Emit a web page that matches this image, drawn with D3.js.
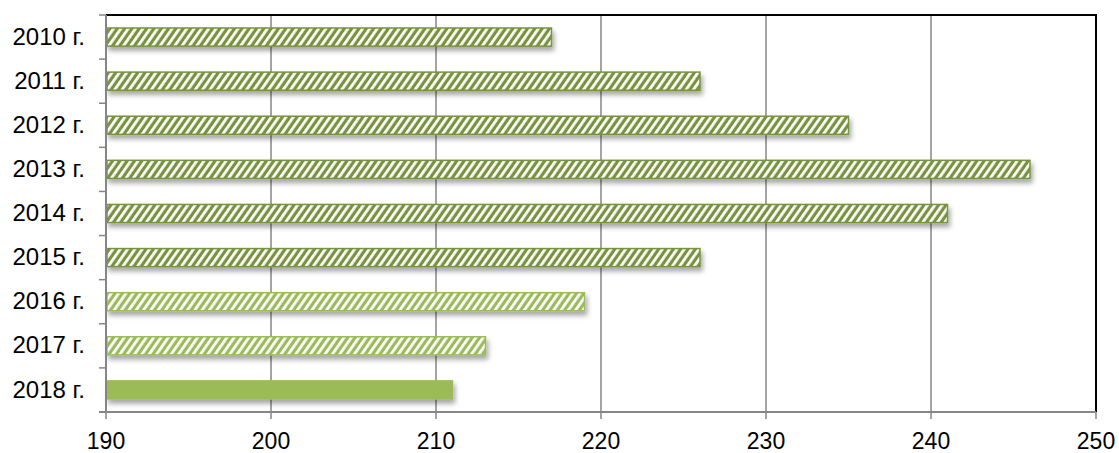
<!DOCTYPE html>
<html><head><meta charset="utf-8">
<script src="https://cdn.jsdelivr.net/npm/d3@7"></script>
<style>body{margin:0;background:#fff}svg{display:block}text{font-family:"Liberation Sans",Arial,sans-serif}</style>
</head><body><svg id="c" width="1119" height="453"></svg>
<script>
const categories = ["2010 г.","2011 г.","2012 г.","2013 г.","2014 г.","2015 г.","2016 г.","2017 г.","2018 г."];
const values = [217,226,235,246,241,226,219,213,211];
const styles = ["dark","dark","dark","dark","dark","dark","light","light","solid"];
const xTicks = [190,200,210,220,230,240,250];

const svg = d3.select("#c");
const m = {l:106, r:1096, t:15, b:412};
const x = d3.scaleLinear().domain([190,250]).range([m.l,m.r]);
const y = d3.scaleBand().domain(categories).range([m.t,m.b]).paddingInner(0.59).paddingOuter(0.295);

const defs = svg.append("defs");
function pat(id, col){
  const p = defs.append("pattern").attr("id",id).attr("patternUnits","userSpaceOnUse")
    .attr("width",6).attr("height",6).attr("patternTransform","rotate(35)");
  p.append("rect").attr("width",6).attr("height",6).attr("fill",col);
  p.append("rect").attr("x",0).attr("y",0).attr("width",2.8).attr("height",6).attr("fill","#fff");
}
pat("pd","#77933c");
pat("pl","#9bbb59");
const f = defs.append("filter").attr("id","sh").attr("x","-5%").attr("y","-50%").attr("width","110%").attr("height","220%");
f.append("feDropShadow").attr("dx",2).attr("dy",4).attr("stdDeviation",2.5).attr("flood-color","#000").attr("flood-opacity",0.35);

// grid
svg.append("g").selectAll("line").data(xTicks.slice(1,-1)).join("line")
  .attr("x1",d=>x(d)).attr("x2",d=>x(d)).attr("y1",m.t).attr("y2",m.b)
  .attr("stroke","#868686").attr("stroke-width",1.5);

// bars
const fillOf = s => s==="dark"?"url(#pd)":s==="light"?"url(#pl)":"#9bbb59";
const strokeOf = s => s==="dark"?"#77933c":"#9bbb59";
svg.append("g").selectAll("rect").data(categories).join("rect")
  .attr("x",x(190)+1).attr("y",d=>y(d))
  .attr("width",(d,i)=>x(values[i])-x(190)-1).attr("height",y.bandwidth())
  .attr("fill",(d,i)=>fillOf(styles[i])).attr("stroke",(d,i)=>strokeOf(styles[i])).attr("stroke-width",1.5)
  .attr("filter","url(#sh)");

// frame top/right
svg.append("line").attr("x1",m.l).attr("x2",m.r+1).attr("y1",m.t).attr("y2",m.t).attr("stroke","#000").attr("stroke-width",2);
svg.append("line").attr("x1",m.r).attr("x2",m.r).attr("y1",m.t).attr("y2",m.b).attr("stroke","#000").attr("stroke-width",2);

// y axis
const ya = svg.append("g").attr("transform",`translate(${m.l},0)`);
ya.append("line").attr("x1",0).attr("x2",0).attr("y1",m.t).attr("y2",m.b).attr("stroke","#868686").attr("stroke-width",2);
const bounds = d3.range(categories.length+1).map(i=>m.t + i*(m.b-m.t)/categories.length);
ya.selectAll("line.t").data(bounds).join("line").attr("class","t")
  .attr("x1",-7).attr("x2",0).attr("y1",d=>d).attr("y2",d=>d).attr("stroke","#868686").attr("stroke-width",1.5);
ya.selectAll("text").data(categories).join("text")
  .attr("x",-21).attr("y",d=>y(d)+y.bandwidth()/2-1).attr("dy","0.36em")
  .attr("text-anchor","end").style("font-size","24px").attr("fill","#000").text(d=>d);

// x axis
const xa = svg.append("g");
xa.append("line").attr("x1",m.l-7).attr("x2",m.r).attr("y1",m.b).attr("y2",m.b).attr("stroke","#868686").attr("stroke-width",2);
xa.selectAll("line.t").data(xTicks).join("line").attr("class","t")
  .attr("x1",d=>x(d)).attr("x2",d=>x(d)).attr("y1",m.b).attr("y2",m.b+7).attr("stroke","#868686").attr("stroke-width",1.5);
xa.selectAll("text").data(xTicks).join("text")
  .attr("x",d=>x(d)).attr("y",449).attr("text-anchor","middle").style("font-size","23px").attr("fill","#000").text(d=>d);
</script></body></html>
